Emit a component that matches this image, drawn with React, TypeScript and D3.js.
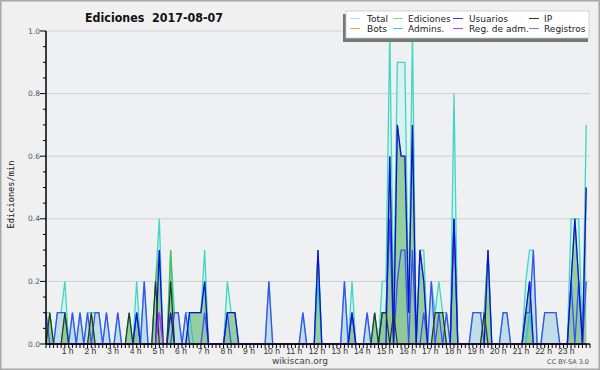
import React, { useEffect } from 'react';
import * as d3 from 'd3';

const W = 600;
const H = 370;

// 10-minute intervals (6 per hour, 144 per day), values in edits/min
const total = [
  0.1, 0.1, 0, 0.1, 0.1, 0.2,
  0, 0.1, 0, 0.1, 0, 0.1,
  0.1, 0.1, 0.1, 0, 0.1, 0,
  0, 0.1, 0, 0, 0.1, 0,
  0.2, 0, 0.2, 0, 0, 0.2,
  0.4, 0, 0, 0.3, 0.1, 0.1,
  0, 0.1, 0.1, 0.1, 0.1, 0.1,
  0.3, 0, 0, 0, 0, 0,
  0.2, 0.1, 0.1, 0, 0, 0,
  0, 0, 0, 0, 0, 0.2,
  0, 0, 0, 0, 0, 0,
  0, 0, 0.1, 0, 0, 0,
  0.3, 0, 0, 0, 0, 0,
  0, 0.2, 0, 0.2, 0, 0,
  0, 0.1, 0, 0.1, 0, 0.2,
  0.2, 1.0, 0.1, 0.9, 0.9, 0.9,
  0.1, 1.0, 0, 0.3, 0.3, 0,
  0.2, 0.1, 0.2, 0.1, 0.1, 0,
  0.8, 0, 0, 0, 0, 0.1,
  0.1, 0.1, 0.1, 0.3, 0, 0,
  0, 0.1, 0.1, 0, 0, 0,
  0, 0.2, 0.3, 0.3, 0, 0,
  0.1, 0.1, 0.1, 0.1, 0, 0,
  0, 0.4, 0.4, 0.4, 0, 0.7,
];

const ediciones = [
  0, 0.1, 0, 0, 0, 0.1,
  0, 0, 0, 0, 0, 0,
  0.1, 0, 0, 0, 0, 0,
  0, 0, 0, 0, 0.1, 0,
  0.1, 0, 0, 0, 0, 0.2,
  0.3, 0, 0, 0.3, 0, 0,
  0, 0, 0.1, 0.1, 0.1, 0.1,
  0.2, 0, 0, 0, 0, 0,
  0.1, 0.1, 0.1, 0, 0, 0,
  0, 0, 0, 0, 0, 0,
  0, 0, 0, 0, 0, 0,
  0, 0, 0, 0, 0, 0,
  0.3, 0, 0, 0, 0, 0,
  0, 0, 0, 0.1, 0, 0,
  0, 0, 0, 0.1, 0, 0.1,
  0.1, 0.6, 0.1, 0.7, 0.6, 0.6,
  0.1, 0.7, 0, 0.3, 0.2, 0,
  0, 0.1, 0.1, 0.1, 0, 0,
  0.4, 0, 0, 0, 0, 0,
  0, 0, 0.1, 0.3, 0, 0,
  0, 0, 0, 0, 0, 0,
  0, 0.1, 0.2, 0, 0, 0,
  0, 0, 0, 0, 0, 0,
  0, 0.2, 0.4, 0.2, 0, 0.5,
];

const usuarios = [
  0, 0, 0, 0, 0, 0,
  0, 0, 0, 0, 0, 0,
  0, 0, 0, 0, 0, 0,
  0, 0, 0, 0, 0, 0,
  0.1, 0, 0, 0, 0, 0,
  0.3, 0, 0, 0.1, 0, 0,
  0, 0, 0.1, 0.1, 0.1, 0.1,
  0.2, 0, 0, 0, 0, 0,
  0.1, 0.1, 0.1, 0, 0, 0,
  0, 0, 0, 0, 0, 0,
  0, 0, 0, 0, 0, 0,
  0, 0, 0, 0, 0, 0,
  0.3, 0, 0, 0, 0, 0,
  0, 0, 0, 0.1, 0, 0,
  0, 0, 0, 0, 0, 0,
  0, 0.6, 0, 0.7, 0.6, 0.6,
  0.1, 0.7, 0, 0.3, 0.2, 0,
  0, 0, 0, 0, 0, 0,
  0.4, 0, 0, 0, 0, 0,
  0, 0, 0, 0.3, 0, 0,
  0, 0, 0, 0, 0, 0,
  0, 0.1, 0.2, 0, 0, 0,
  0, 0, 0, 0, 0, 0,
  0, 0.2, 0.4, 0.2, 0, 0.5,
];

const ip = [
  0, 0.1, 0, 0, 0, 0.1,
  0, 0, 0, 0, 0, 0,
  0.1, 0, 0, 0, 0, 0,
  0, 0, 0, 0, 0.1, 0,
  0, 0, 0, 0, 0, 0.2,
  0, 0, 0, 0.2, 0, 0,
  0, 0, 0, 0, 0, 0,
  0, 0, 0, 0, 0, 0,
  0, 0, 0, 0, 0, 0,
  0, 0, 0, 0, 0, 0,
  0, 0, 0, 0, 0, 0,
  0, 0, 0, 0, 0, 0,
  0, 0, 0, 0, 0, 0,
  0, 0, 0, 0, 0, 0,
  0, 0, 0, 0.1, 0, 0.1,
  0.1, 0, 0.1, 0, 0, 0,
  0, 0, 0, 0, 0, 0,
  0, 0.1, 0.1, 0.1, 0, 0,
  0, 0, 0, 0, 0, 0,
  0, 0, 0.1, 0, 0, 0,
  0, 0, 0, 0, 0, 0,
  0, 0, 0, 0, 0, 0,
  0, 0, 0, 0, 0, 0,
  0, 0, 0, 0, 0, 0,
];

const admins = [
  0, 0, 0, 0, 0, 0,
  0, 0, 0, 0, 0, 0,
  0, 0, 0, 0, 0, 0,
  0, 0, 0, 0, 0, 0,
  0.1, 0, 0, 0, 0, 0,
  0, 0, 0, 0, 0, 0,
  0, 0, 0.1, 0, 0, 0,
  0, 0, 0, 0, 0, 0,
  0, 0, 0, 0, 0, 0,
  0, 0, 0, 0, 0, 0,
  0, 0, 0, 0, 0, 0,
  0, 0, 0, 0, 0, 0,
  0.2, 0, 0, 0, 0, 0,
  0, 0, 0, 0, 0, 0,
  0, 0, 0, 0, 0, 0,
  0, 0, 0, 0, 0, 0,
  0, 0, 0, 0, 0, 0,
  0, 0, 0, 0, 0, 0,
  0, 0, 0, 0, 0, 0,
  0, 0, 0, 0, 0, 0,
  0, 0, 0, 0, 0, 0,
  0, 0, 0.1, 0, 0, 0,
  0, 0, 0, 0, 0, 0,
  0, 0, 0, 0, 0, 0,
];

const regAdm = [
  0, 0, 0, 0, 0, 0,
  0, 0, 0, 0, 0, 0,
  0, 0, 0, 0, 0, 0,
  0, 0, 0, 0, 0, 0,
  0, 0, 0, 0, 0, 0,
  0.1, 0, 0, 0, 0, 0,
  0, 0, 0, 0, 0, 0,
  0, 0, 0, 0, 0, 0,
  0, 0, 0, 0, 0, 0,
  0, 0, 0, 0, 0, 0,
  0, 0, 0, 0, 0, 0,
  0, 0, 0, 0, 0, 0,
  0, 0, 0, 0, 0, 0,
  0, 0, 0, 0, 0, 0,
  0, 0, 0, 0, 0, 0,
  0, 0, 0, 0, 0, 0,
  0, 0, 0, 0, 0, 0,
  0, 0, 0, 0, 0, 0,
  0, 0, 0, 0, 0, 0,
  0, 0, 0, 0, 0, 0,
  0, 0, 0, 0, 0, 0,
  0, 0, 0, 0, 0, 0,
  0, 0, 0, 0, 0, 0,
  0, 0, 0, 0, 0, 0,
];

const registros = [
  0.1, 0, 0, 0.1, 0.1, 0.1,
  0, 0.1, 0, 0.1, 0, 0.1,
  0, 0.1, 0.1, 0, 0.1, 0,
  0, 0.1, 0, 0, 0, 0,
  0.1, 0, 0.2, 0, 0, 0,
  0.1, 0, 0, 0, 0.1, 0.1,
  0, 0.1, 0, 0, 0, 0,
  0.1, 0, 0, 0, 0, 0,
  0.1, 0, 0, 0, 0, 0,
  0, 0, 0, 0, 0, 0.2,
  0, 0, 0, 0, 0, 0,
  0, 0, 0.1, 0, 0, 0,
  0, 0, 0, 0, 0, 0,
  0, 0.2, 0, 0.1, 0, 0,
  0, 0.1, 0, 0, 0, 0.1,
  0.1, 0.4, 0, 0.2, 0.3, 0.3,
  0, 0.3, 0, 0, 0.1, 0,
  0.2, 0, 0.1, 0, 0.1, 0,
  0.4, 0, 0, 0, 0, 0.1,
  0.1, 0.1, 0, 0, 0, 0,
  0, 0.1, 0.1, 0, 0, 0,
  0, 0.1, 0.1, 0.3, 0, 0,
  0.1, 0.1, 0.1, 0.1, 0, 0,
  0, 0.2, 0, 0.2, 0, 0.2,
];

const hourLabels = [
  '1 h', '2 h', '3 h', '4 h', '5 h', '6 h', '7 h', '8 h', '9 h', '10 h', '11 h', '12 h',
  '13 h', '14 h', '15 h', '16 h', '17 h', '18 h', '19 h', '20 h', '21 h', '22 h', '23 h',
];
const yTickLabels = ['0.0', '0.2', '0.4', '0.6', '0.8', '1.0'];

const legendLabels = ['Total', 'Ediciones', 'Usuarios', 'IP', 'Bots', 'Admins.', 'Reg. de adm.', 'Registros'];
const legendColors = ['#a8e8e4', '#8fd08f', '#3a3ae0', '#333333', '#f0a040', '#40c8e0', '#d040e0', '#7a7af0'];

export default function App() {
  useEffect(() => {
    document.body.style.margin = '0';
  }, []);

  const n = total.length;
  const x = d3.scaleLinear().domain([0, n]).range([46, 590]);
  const y = d3.scaleLinear().domain([0, 1]).range([344, 31]);

  const lineGen = d3.line<number>().x((_, i) => x(i)).y((d) => y(d));
  const areaGen = d3.area<number>().x((_, i) => x(i)).y0(y(0)).y1((d) => y(d));

  const minorY = d3.range(0, 21).map((k) => k * 0.05);
  const majorY = yTickLabels.map((t) => +t);
  const xTicks = d3.range(0, n + 1);

  const legendCols = [350, 393, 453, 529];
  const legendTextCols = [367, 408, 469, 544];

  return (
    <svg width={W} height={H} style={{ position: 'absolute', left: 0, top: 0, display: 'block' }}>
      <rect x={0.75} y={0.75} width={W - 1.5} height={H - 1.5} fill="#f0f0f0" stroke="#a8a8a8" strokeWidth={1.5} />
      <rect x={x(0)} y={y(1)} width={x(n) - x(0)} height={y(0) - y(1)} fill="#eef0f2" />

      {/* grid */}
      {majorY.filter((v) => v > 0).map((v) => (
        <line key={'g' + v} x1={x(0)} x2={x(n)} y1={y(v)} y2={y(v)} stroke="#cfcfcf" strokeWidth={1} />
      ))}

      {/* areas */}
      <path d={areaGen(total) || ''} fill="#d6f2ef" fillOpacity={0.9} />
      <path d={areaGen(registros) || ''} fill="#bcdbe6" fillOpacity={0.85} />
      <path d={areaGen(ediciones) || ''} fill="#78c07c" fillOpacity={0.7} />

      {/* lines */}
      <path d={lineGen(total) || ''} fill="none" stroke="#3fd6c6" strokeWidth={1.3} />
      <path d={lineGen(ediciones) || ''} fill="none" stroke="#4cba4c" strokeWidth={1.1} />
      <path d={lineGen(registros) || ''} fill="none" stroke="#3f4ff0" strokeWidth={1.3} />
      <path d={lineGen(admins) || ''} fill="none" stroke="#22c0dc" strokeWidth={1.1} />
      <path d={lineGen(usuarios) || ''} fill="none" stroke="#1010d8" strokeWidth={1.3} />
      <path d={lineGen(ip) || ''} fill="none" stroke="#203a28" strokeWidth={1.2} />
      <path d={lineGen(regAdm) || ''} fill="none" stroke="#cc33e0" strokeWidth={1.2} />

      {/* y axis */}
      <line x1={x(0)} x2={x(0)} y1={y(1)} y2={y(0)} stroke="#000" strokeWidth={1.5} />
      {minorY.map((v, k) => (
        <line key={'ym' + k} x1={x(0) - (k % 4 === 0 ? 6 : 3)} x2={x(0)} y1={y(v)} y2={y(v)} stroke="#000" strokeWidth={1} />
      ))}
      {majorY.map((v, k) => (
        <text key={'yl' + k} x={x(0) - 6} y={y(v) + 2.5} textAnchor="end" fontFamily="DejaVu Sans" fontSize={7.5} fill="#555">
          {yTickLabels[k]}
        </text>
      ))}

      {/* x axis */}
      <line x1={x(0)} x2={x(n)} y1={y(0)} y2={y(0)} stroke="#000" strokeWidth={1.5} />
      {xTicks.map((i) => (
        <line key={'xt' + i} x1={x(i)} x2={x(i)} y1={y(0)} y2={y(0) + 4} stroke="#000" strokeWidth={1} />
      ))}
      {hourLabels.map((t, k) => (
        <text key={'xl' + k} x={x((k + 1) * 6) - 1} y={353.5} textAnchor="middle" fontFamily="Liberation Sans" fontSize={8.5} fill="#333">
          {t}
        </text>
      ))}

      {/* title */}
      <text x={154} y={21.5} textAnchor="middle" fontFamily="DejaVu Sans" fontWeight="bold" fontSize={12} fill="#111" textLength={138} lengthAdjust="spacingAndGlyphs">
        {'Ediciones\u00a0\u00a02017-08-07'}
      </text>

      {/* y label */}
      <text transform={`translate(14,194.5) rotate(-90)`} textAnchor="middle" fontFamily="DejaVu Sans Mono" fontSize={9.5} fill="#111" textLength={68} lengthAdjust="spacingAndGlyphs">
        Ediciones/min
      </text>

      {/* footer */}
      <text x={300} y={364} textAnchor="middle" fontFamily="DejaVu Sans" fontSize={9} fill="#444">wikiscan.org</text>
      <text x={589} y={364} textAnchor="end" fontFamily="DejaVu Sans" fontSize={6.5} fill="#555">CC BY-SA 3.0</text>

      {/* legend */}
      <rect x={343} y={14} width={245} height={28} fill="#777" />
      <rect x={346} y={11} width={243} height={27} fill="#fff" stroke="#c8c8c8" strokeWidth={0.8} />
      {legendLabels.map((lab, k) => {
        const col = k % 4;
        const row = Math.floor(k / 4);
        const ly = 18.5 + row * 10;
        return (
          <g key={'lg' + k}>
            <line x1={legendCols[col]} x2={legendCols[col] + 10} y1={ly} y2={ly} stroke={legendColors[k]} strokeWidth={1} />
            <text x={legendTextCols[col]} y={ly + 3.5} fontFamily="DejaVu Sans" fontSize={9} fill="#222">{lab}</text>
          </g>
        );
      })}
    </svg>
  );
}
